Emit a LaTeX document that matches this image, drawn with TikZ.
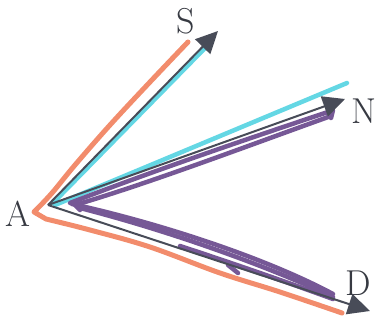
\documentclass[tikz,border=0pt]{standalone}
\usetikzlibrary{arrows.meta}
\definecolor{orangeink}{RGB}{242,140,108}
\definecolor{cyanink}{RGB}{100,215,228}
\definecolor{purpleink}{RGB}{118,88,150}
\definecolor{grayink}{RGB}{72,76,88}
\definecolor{labelink}{RGB}{55,58,66}
\tikzset{
  arr/.style={draw=grayink, line width=2pt, -{Triangle[length=22pt,width=21pt]}},
  orangestroke/.style={draw=orangeink, line width=5pt, line cap=round, line join=round},
  cyanstroke/.style={draw=cyanink, line width=4.5pt, line cap=round},
  purplestroke/.style={draw=purpleink, line width=4.5pt, line cap=round, line join=round},
  lbl/.style={text=labelink, font=\fontsize{36}{36}\selectfont, inner sep=0pt}
}
\begin{document}
\begin{tikzpicture}[x=1pt,y=-1pt]
\useasboundingbox (0,0) rectangle (378,321);
% labels
\node[lbl] (A) at (18,214) {A};
\node[lbl] (S) at (186,21) {S};
\node[lbl] (N) at (364,111) {N};
\node[lbl] (D) at (358,283) {D};
% arrow origin and tips
\coordinate (O) at (48,205);
\coordinate (tS) at (218,31);
\coordinate (tN) at (345,99);
\coordinate (tD) at (370,311);
% orange stroke
\draw[orangestroke] plot[smooth, tension=0.6] coordinates {(188,42) (150,82) (110,125) (75,165) (52,193) (34,212)}
  -- (46,219) plot[smooth, tension=0.6] coordinates {(46,219) (90,230) (150,247) (220,273) (280,292) (342,313)};
% cyan strokes
\draw[cyanstroke] (53,203) -- (208,45);
\draw[cyanstroke] (55,205) -- (347,83);
% purple strokes to N
\draw[purplestroke] (70,203) .. controls (150,172) and (250,138) .. (328,112) -- (333,110) -- (331,118);
\draw[purplestroke] (80,210) -- (75,205) .. controls (150,183) and (250,145) .. (331,116);
% purple strokes to D
\draw[purplestroke] (72,204) .. controls (150,221) and (260,255) .. (333,294);
\draw[purplestroke] (80,208) .. controls (170,231) and (270,267) .. (333,297);
\draw[purplestroke] (180,246) .. controls (250,269) and (300,287) .. (333,299);
\draw[purplestroke] (228,265) -- (238,273);
% gray arrows
\draw[arr] (O) -- (tS);
\draw[arr] (O) -- (tN);
\draw[arr] (O) -- (tD);
\end{tikzpicture}
\end{document}
